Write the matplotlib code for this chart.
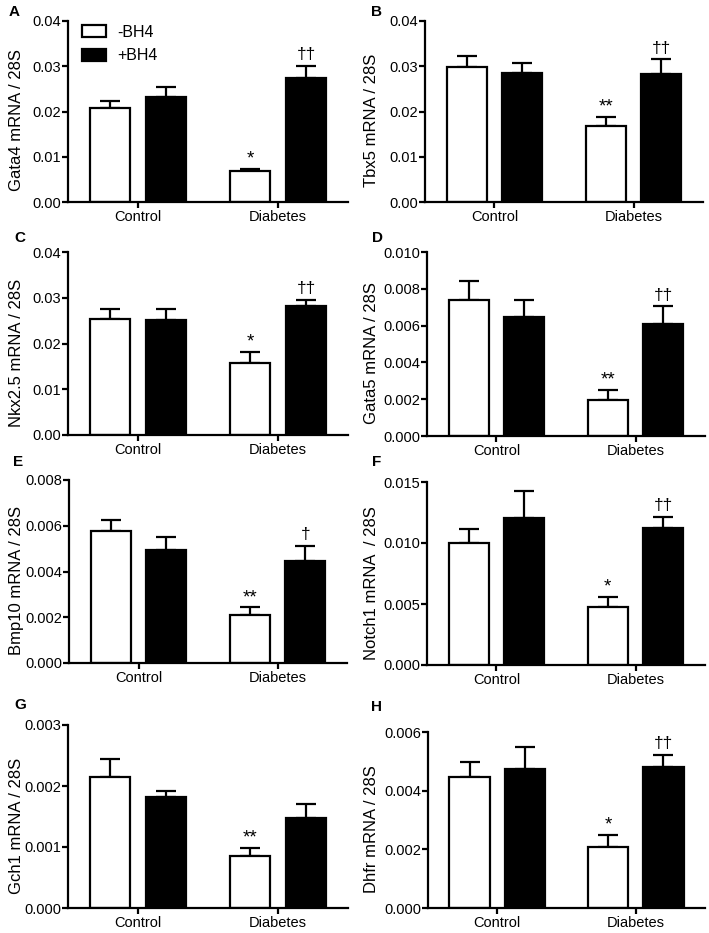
import numpy as np
import matplotlib
matplotlib.use("Agg")
import matplotlib.pyplot as plt
from matplotlib.patches import Patch

plt.rcParams['font.family'] = ['Liberation Sans', 'DejaVu Sans']
plt.rcParams['font.size'] = 10

groups = ["Control", "Diabetes"]
series = ["-BH4", "+BH4"]

letters = ["A", "B", "C", "D", "E", "F", "G", "H"]
ylabels = ["Gata4 mRNA / 28S", "Tbx5 mRNA / 28S", "Nkx2.5 mRNA / 28S",
           "Gata5 mRNA / 28S", "Bmp10 mRNA / 28S", "Notch1 mRNA  / 28S",
           "Gch1 mRNA / 28S", "Dhfr mRNA / 28S"]
yticks = [
    ["0.00", "0.01", "0.02", "0.03", "0.04"],
    ["0.00", "0.01", "0.02", "0.03", "0.04"],
    ["0.00", "0.01", "0.02", "0.03", "0.04"],
    ["0.000", "0.002", "0.004", "0.006", "0.008", "0.010"],
    ["0.000", "0.002", "0.004", "0.006", "0.008"],
    ["0.000", "0.005", "0.010", "0.015"],
    ["0.000", "0.001", "0.002", "0.003"],
    ["0.000", "0.002", "0.004", "0.006"],
]

# means: [control, diabetes]
minus_bh4 = [
    [0.0207, 0.0068],
    [0.0299, 0.0169],
    [0.0253, 0.0157],
    [0.00738, 0.00196],
    [0.00578, 0.00211],
    [0.01004, 0.00472],
    [0.00214, 0.000845],
    [0.00447, 0.00209],
]
plus_bh4 = [
    [0.0233, 0.0275],
    [0.0286, 0.0282],
    [0.0252, 0.0282],
    [0.00647, 0.00607],
    [0.00496, 0.00445],
    [0.01205, 0.01124],
    [0.00182, 0.00148],
    [0.00475, 0.00480],
]
# SEM (upper error bars only)
minus_err = [
    [0.0016, 0.0006],
    [0.0024, 0.0019],
    [0.0023, 0.0024],
    [0.00106, 0.00055],
    [0.00046, 0.00032],
    [0.00109, 0.00087],
    [0.00030, 0.000145],
    [0.00050, 0.00041],
]
plus_err = [
    [0.0022, 0.0026],
    [0.0021, 0.0034],
    [0.0024, 0.0014],
    [0.00091, 0.00098],
    [0.00055, 0.00067],
    [0.00221, 0.00090],
    [0.00009, 0.00022],
    [0.00074, 0.00043],
]
minus_marks = [["", "*"], ["", "**"], ["", "*"], ["", "**"],
               ["", "**"], ["", "*"], ["", "**"], ["", "*"]]
plus_marks = [["", "††"], ["", "††"], ["", "††"], ["", "††"],
              ["", "†"], ["", "††"], ["", ""], ["", "††"]]

# axes boxes in pixels (left, right, top, bottom)
boxes = [
    (68, 348, 21, 202), (425, 703, 21, 202),
    (68, 348, 252, 435), (427, 705, 252, 436),
    (69, 347, 480, 663), (427, 705, 482, 665),
    (68, 348, 725, 908), (428, 705, 732, 908),
]
letter_pos = [(14, 12), (377, 12), (20, 238), (378, 238),
              (18, 462), (377, 462), (20, 705), (377, 707)]

W, H = 709, 933
fig = plt.figure(figsize=(W / 100, H / 100), dpi=100)

x = np.arange(len(groups))
width = 0.29
off = 0.2
lw = 1.6

for i in range(8):
    l, r, t, b = boxes[i]
    ax = fig.add_axes([l / W, 1 - b / H, (r - l) / W, (b - t) / H])
    ax.bar(x - off, minus_bh4[i], width, color="white", edgecolor="black",
           linewidth=lw, zorder=2)
    ax.bar(x + off, plus_bh4[i], width, color="black", edgecolor="black",
           linewidth=lw, zorder=2)
    ax.errorbar(x - off, minus_bh4[i], yerr=[[0, 0], minus_err[i]], fmt="none",
                ecolor="black", elinewidth=lw, capsize=7, capthick=lw, zorder=1)
    ax.errorbar(x + off, plus_bh4[i], yerr=[[0, 0], plus_err[i]], fmt="none",
                ecolor="black", elinewidth=lw, capsize=7, capthick=lw, zorder=1)
    for j in range(2):
        if minus_marks[i][j]:
            ax.annotate(minus_marks[i][j], (x[j] - off, minus_bh4[i][j] + minus_err[i][j]),
                        xytext=(0, 1), textcoords="offset points",
                        ha="center", va="bottom", fontsize=13.5)
        if plus_marks[i][j]:
            ax.annotate(plus_marks[i][j], (x[j] + off, plus_bh4[i][j] + plus_err[i][j]),
                        xytext=(0, 2.5), textcoords="offset points",
                        ha="center", va="bottom", fontsize=12.5)

    vals = [float(v) for v in yticks[i]]
    ax.set_ylim(0, vals[-1])
    ax.set_yticks(vals)
    ax.set_yticklabels(yticks[i])
    ax.set_xlim(-0.5, 1.5)
    ax.set_xticks(x)
    ax.set_xticklabels(groups)
    ax.set_ylabel(ylabels[i], fontsize=12)
    # label right edge ~24 px from the panel's left side
    label_px = 24 if l < 300 else 379
    ax.yaxis.set_label_coords((label_px - l) / (r - l), 0.45)
    for s in ["top", "right"]:
        ax.spines[s].set_visible(False)
    for s in ["left", "bottom"]:
        ax.spines[s].set_linewidth(lw)
    ax.tick_params(width=lw, length=4, labelsize=10.5, pad=1)
    ax.tick_params(axis="x", length=4, pad=2)

    lx, ly = letter_pos[i]
    fig.text(lx / W, 1 - ly / H, letters[i], fontweight="bold", fontsize=11,
             ha="center", va="center")

    if i == 0:
        handles = [Patch(facecolor="white", edgecolor="black", linewidth=lw),
                   Patch(facecolor="black", edgecolor="black", linewidth=lw)]
        ax.legend(handles, series, loc="upper left", frameon=False,
                  bbox_to_anchor=(0.0, 1.06), handlelength=1.5,
                  handleheight=0.75, handletextpad=0.7, fontsize=11.5,
                  labelspacing=0.55)

fig.savefig("out.png", dpi=100)
